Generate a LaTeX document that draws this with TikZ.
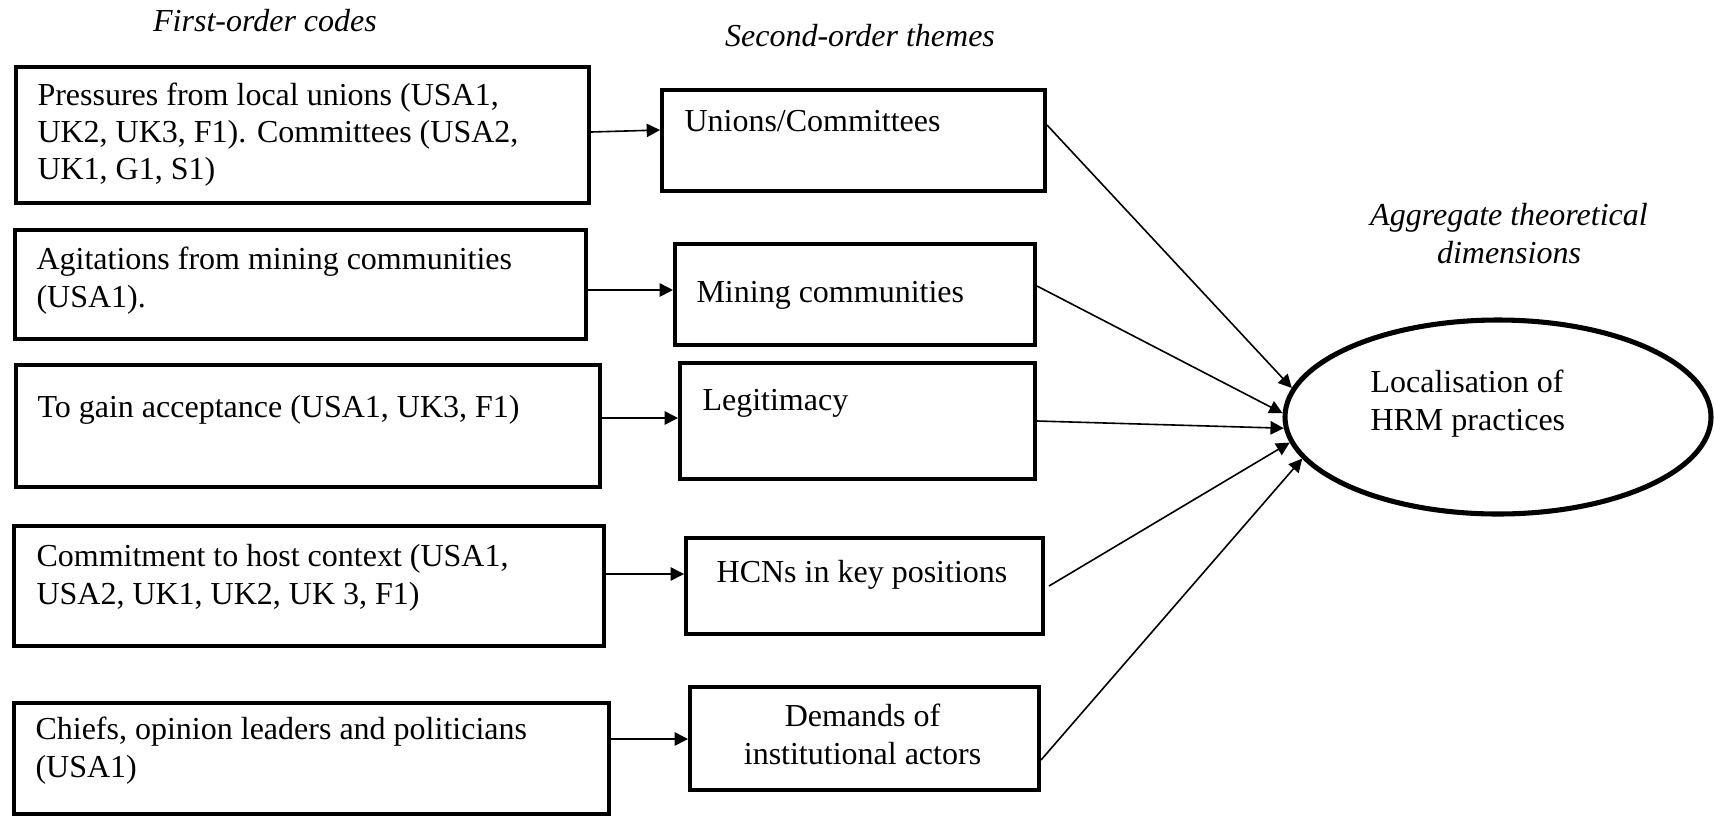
\documentclass[tikz,border=0pt]{standalone}
\usepackage{fontspec}
\setmainfont{Liberation Serif}
\usetikzlibrary{arrows.meta,shapes.geometric,calc}

\begin{document}
\begin{tikzpicture}[x=0.375pt,y=-0.375pt,
  sz/.style 2 args={minimum width=#1*0.375pt,minimum height=#2*0.375pt},
  box/.style={draw,line width=1.5pt,inner sep=0pt,anchor=north west},
  txt/.style={inner sep=0pt,font=\fontsize{12pt}{14pt}\selectfont,align=left,anchor=base west},
  ctxt/.style={inner sep=0pt,font=\fontsize{12pt}{14pt}\selectfont,align=center,anchor=base},
  head/.style={ctxt,font=\fontsize{12pt}{14pt}\selectfont\itshape},
  conn/.style={line width=0.6pt,-{Triangle[length=5pt,width=5pt]}}]

\useasboundingbox (0,0) rectangle (1714,816);

% column headings (multi-line nodes are placed by their last baseline)
\node[head] (h1) at (265,31) {First-order codes};
\node[head] (h2) at (860,46) {Second-order themes};
\node[head] (h3) at (1509,263) {Aggregate theoretical\\dimensions};

% first-order codes
\node[box,sz={573}{136}] (a1) at (14,65) {};
\node[box,sz={571}{109}] (a2) at (13,228) {};
\node[box,sz={584}{122}] (a3) at (14,363) {};
\node[box,sz={590}{120}] (a4) at (12,524) {};
\node[box,sz={595}{111}] (a5) at (12,701) {};

\node[txt] (a1t) at (37,179.7) {Pressures from local unions (USA1,\\UK2, UK3, F1). Committees (USA2,\\UK1, G1, S1)};
\node[txt] (a2t) at (36,307.3) {Agitations from mining communities\\(USA1).};
\node[txt] (a3t) at (37,417) {To gain acceptance (USA1, UK3, F1)};
\node[txt] (a4t) at (36,604.3) {Commitment to host context (USA1,\\USA2, UK1, UK2, UK 3, F1)};
\node[txt] (a5t) at (35,777.3) {Chiefs, opinion leaders and politicians\\(USA1)};

% second-order themes
\node[box,sz={383}{101}] (b1) at (660,88) {};
\node[box,sz={360}{101}] (b2) at (673,242) {};
\node[box,sz={355}{116}] (b3) at (678,361) {};
\node[box,sz={357}{96}] (b4) at (684,536) {};
\node[box,sz={349}{103}] (b5) at (688,685) {};

\node[txt] (b1t) at (684,131) {Unions/Committees};
\node[txt] (b2t) at (696,302) {Mining communities};
\node[txt] (b3t) at (702,410) {Legitimacy};
\node[ctxt] (b4t) at (862,582) {HCNs in key positions};
\node[ctxt] (b5t) at (862.5,764.3) {Demands of\\institutional actors};

% aggregate dimension
\node[draw,ellipse,line width=1.9pt,inner sep=0pt,sz={426}{194}] (e) at (1498,417) {};
\node[txt] (et) at (1370,430) {Localisation of\\HRM practices};

% codes to themes
\draw[conn] ($(a1.east)+(0,-3)$) -- ($(b1.west)+(0,-10.5)$);
\draw[conn] ($(a2.east)+(0,5.5)$) -- ($(b2.west)+(0,-4.5)$);
\draw[conn] ($(a3.east)+(0,-8)$) -- ($(b3.west)+(0,-3)$);
\draw[conn] ($(a4.east)+(0,-12)$) -- ($(b4.west)+(0,-12)$);
\draw[conn] ($(a5.east)+(-3,-19.5)$) -- ($(b5.west)+(0,0.5)$);

% themes to dimension
\draw[conn] ($(b1.east)+(0,-15.5)$) -- (e.172);
\draw[conn] ($(b2.east)+(0,-8.5)$) -- (e.179);
\draw[conn] (b3.east) -- (e.183);
\draw[conn] ($(b4.east)+(4,0)$) -- (e.187);
\draw[conn] ($(b5.east)+(0,21.5)$) -- (e.192);
\end{tikzpicture}
\end{document}
